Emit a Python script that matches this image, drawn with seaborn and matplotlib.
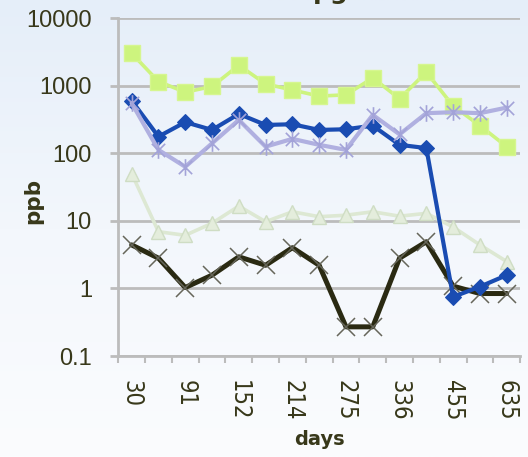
import numpy as np
import pandas as pd
import matplotlib
matplotlib.use("Agg")
import matplotlib.pyplot as plt
from matplotlib.path import Path
from matplotlib.colors import LinearSegmentedColormap
import seaborn as sns

# sampling days (categorical axis)
days = ["30", "61", "91", "122", "152", "183", "214", "244",
        "275", "305", "336", "395", "455", "545", "635"]

# concentrations in ppb
green_sq = [3000, 1150, 800, 970, 2000, 1060, 860, 700, 730, 1300, 640, 1580, 500, 256, 125]
blue_dm = [600, 176, 288, 221, 381, 262, 268, 221, 226, 256, 133, 119, 0.75, 1.06, 1.57]
lav_star = [550, 112, 63, 140, 311, 125, 163, 133, 112, 369, 190, 391, 404, 391, 473]
pale_tri = [50, 6.9, 6.1, 9.2, 16.5, 9.7, 13.6, 11.5, 12.1, 13.6, 11.7, 12.9, 8.1, 4.4, 2.5]
dark_x = [4.4, 2.8, 1.03, 1.57, 2.93, 2.2, 4.0, 2.2, 0.27, 0.27, 2.8, 4.9, 1.08, 0.84, 0.84]

y_ticks = [0.1, 1, 10, 100, 1000, 10000]
y_labels = ["0.1", "1", "10", "100", "1000", "10000"]

TXT = "#38381a"
GRID = "#bcbcbc"

sns.set_theme(style="white")
plt.rcParams["font.family"] = ["DejaVu Sans"]

fig = plt.figure(figsize=(5.28, 4.57), dpi=100)

# soft vertical background gradient
bg = fig.add_axes([0, 0, 1, 1], zorder=-10)
cmap = LinearSegmentedColormap.from_list("bg", ["#fbfcfe", "#f3f7fc", "#e5eef9"])
bg.imshow(np.linspace(0, 1, 256).reshape(-1, 1), aspect="auto", cmap=cmap,
          origin="lower", extent=[0, 1, 0, 1])
bg.axis("off")

ax = fig.add_axes([0.224, 0.221, 0.761, 0.7396])
ax.patch.set_alpha(0)
ax.set_yscale("log")

asterisk = Path([(-1, -1), (1, 1), (-1, 1), (1, -1), (0, -1.25), (0, 1.25)],
                [Path.MOVETO, Path.LINETO] * 3)

styles = [
    (pale_tri, dict(color="#dde8d3", lw=2.6, marker="^", markersize=10,
                    markerfacecolor="#e4eddc", markeredgecolor="#cfddc4", markeredgewidth=1), 1),
    (green_sq, dict(color="#cdf47e", lw=2.6, marker="s", markersize=12,
                    markerfacecolor="#cdf47e", markeredgecolor="#d6f690", markeredgewidth=1), 2),
    (dark_x, dict(color="#2a2a12", lw=3.6, marker="x", markersize=13,
                  markeredgecolor="#66665a", markeredgewidth=1.1), 3),
    (blue_dm, dict(color="#1a4cb2", lw=3.0, marker="D", markersize=8.5,
                   markerfacecolor="#1a4cb2", markeredgecolor="#1a4cb2"), 4),
    (lav_star, dict(color="#b0b0e0", lw=3.0, marker=asterisk, markersize=12,
                    markeredgecolor="#a3a3d8", markeredgewidth=1.2), 5),
]

for vals, kw, z in styles:
    df = pd.DataFrame({"days": days, "ppb": vals})
    sns.lineplot(data=df, x="days", y="ppb", ax=ax, sort=False, zorder=z, **kw)

ax.set_xlim(-0.5, len(days) - 0.5)
ax.set_ylim(0.1, 10000)

# y axis
ax.set_yticks(y_ticks)
ax.set_yticklabels(y_labels, fontfamily=["Liberation Sans", "DejaVu Sans"],
                   fontsize=17, color=TXT)
ax.yaxis.set_minor_locator(matplotlib.ticker.NullLocator())
ax.tick_params(axis="y", which="major", length=6, width=2, color=GRID,
               pad=13, left=True)
ax.yaxis.grid(True, color=GRID, lw=2)
ax.xaxis.grid(False)

# x axis: labels on every other day, tick marks between categories
ax.set_xticks(range(len(days)))
ax.set_xticklabels([d if i % 2 == 0 else "" for i, d in enumerate(days)],
                   rotation=-90, fontsize=17, color=TXT, fontstretch="condensed")
ax.set_xticks(np.arange(-0.5, len(days), 1), minor=True)
ax.tick_params(axis="x", which="major", length=0, pad=17)
ax.tick_params(axis="x", which="minor", length=5, width=1.5, color=GRID, bottom=True)

for s in ["top", "right"]:
    ax.spines[s].set_visible(False)
for s in ["left", "bottom"]:
    ax.spines[s].set_color(GRID)
    ax.spines[s].set_linewidth(2)

ax.set_xlabel("days", fontsize=14, fontweight="bold", color=TXT, labelpad=7)
ax.set_ylabel("ppb", fontsize=15.5, fontweight="bold", color=TXT)
ax.yaxis.set_label_coords(-0.187, 0.46)

# chart title sits mostly above the top edge
fig.text(0.592, 1.0 + 1.5 / 457, "pg", fontsize=18, fontweight="bold",
         color=TXT, ha="left", va="baseline")

fig.savefig("out.png", dpi=100)
